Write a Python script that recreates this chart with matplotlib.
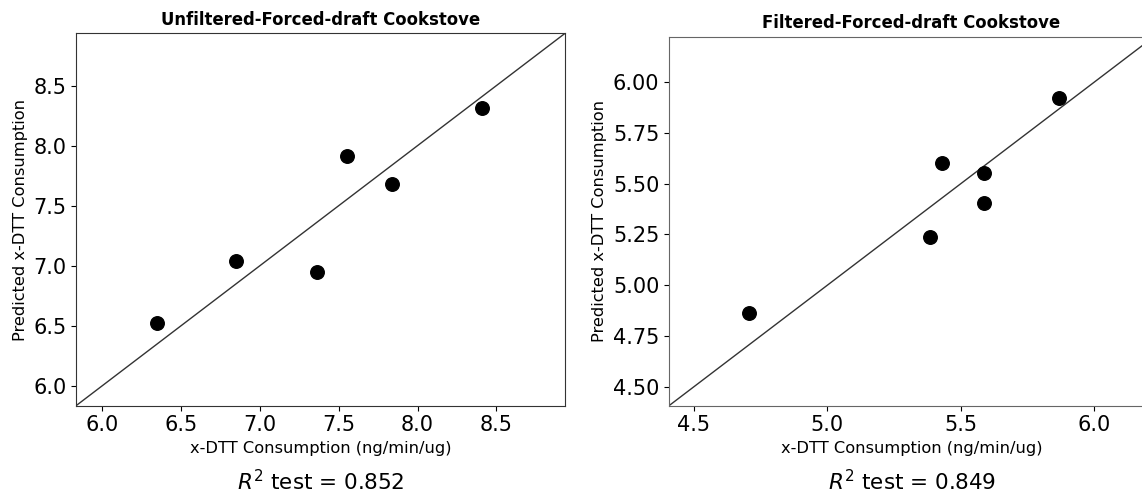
import matplotlib
matplotlib.use("Agg")
import matplotlib.pyplot as plt

# measured vs predicted x-DTT consumption
unfiltered_x = [6.35, 6.85, 7.36, 7.55, 7.84, 8.41]
unfiltered_y = [6.52, 7.04, 6.95, 7.91, 7.68, 8.31]
unfiltered_lims = [5.835, 8.935]
unfiltered_r2 = 0.852

filtered_x = [4.705, 5.385, 5.43, 5.585, 5.585, 5.867]
filtered_y = [4.862, 5.235, 5.60, 5.551, 5.406, 5.923]
filtered_lims = [4.407, 6.223]
filtered_r2 = 0.849

titles = ["Unfiltered-Forced-draft Cookstove", "Filtered-Forced-draft Cookstove"]


def draw(ax, x, y, lims, r2, title, spine_color):
    ax.plot(lims, lims, color="#333333", lw=1)
    ax.scatter(x, y, s=95, color="black", zorder=3)
    ax.set_xlim(lims)
    ax.set_ylim(lims)
    ax.set_title(title, fontsize=11.9, fontweight="bold")
    ax.set_xlabel("x-DTT Consumption (ng/min/ug)", fontsize=11.7)
    ax.set_ylabel("Predicted x-DTT Consumption", fontsize=11.7)
    ax.tick_params(labelsize=15)
    for sp in ax.spines.values():
        sp.set_color(spine_color)
    ax.text(0.5, -0.205, "$R^2$ test = %.3f" % r2, transform=ax.transAxes,
            ha="center", va="center", fontsize=15.5)


def main():
    fig = plt.figure(figsize=(11.42, 4.95), dpi=100)
    ax1 = fig.add_axes([0.0666, 0.1804, 0.4282, 0.7523])
    ax2 = fig.add_axes([0.5858, 0.1804, 0.4247, 0.7455])

    draw(ax1, unfiltered_x, unfiltered_y, unfiltered_lims, unfiltered_r2, titles[0], "#333333")
    draw(ax2, filtered_x, filtered_y, filtered_lims, filtered_r2, titles[1], "#666666")
    ax1.set_xticks([6.0, 6.5, 7.0, 7.5, 8.0, 8.5])
    ax1.set_yticks([6.0, 6.5, 7.0, 7.5, 8.0, 8.5])
    ax2.set_xticks([4.5, 5.0, 5.5, 6.0])
    ax2.set_yticks([4.5, 4.75, 5.0, 5.25, 5.5, 5.75, 6.0])
    ax2.yaxis.set_major_formatter(matplotlib.ticker.FormatStrFormatter("%.2f"))

    fig.savefig("out.png", dpi=100)


if __name__ == "__main__":
    main()
